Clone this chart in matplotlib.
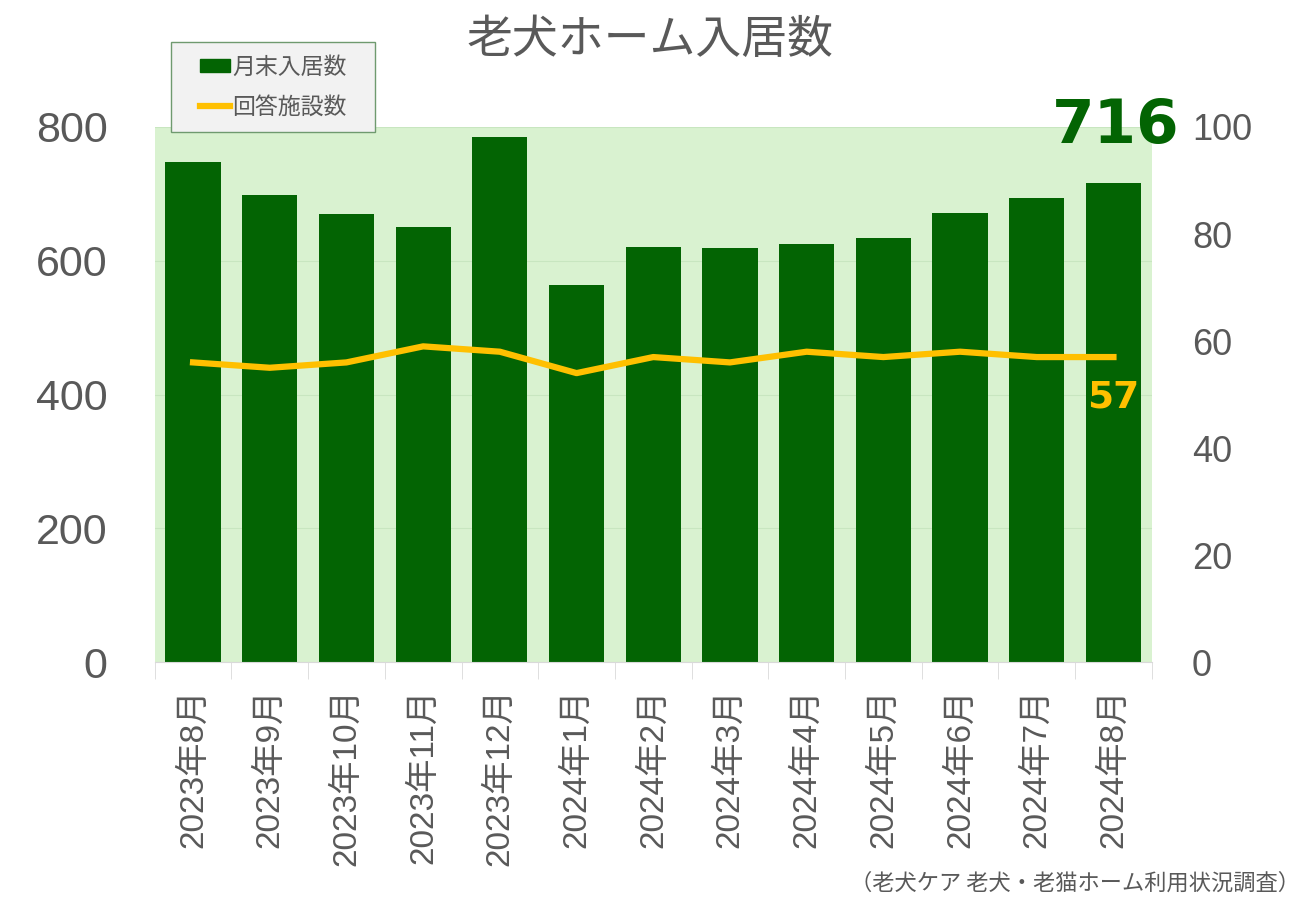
import numpy as np
import matplotlib
matplotlib.use('Agg')
import matplotlib.pyplot as plt
from matplotlib.lines import Line2D
from matplotlib.patches import Patch, Rectangle

plt.rcParams['font.family'] = ['Liberation Sans', 'Noto Sans CJK JP', 'DejaVu Sans']

months = ['2023年8月', '2023年9月', '2023年10月', '2023年11月', '2023年12月',
          '2024年1月', '2024年2月', '2024年3月', '2024年4月', '2024年5月',
          '2024年6月', '2024年7月', '2024年8月']
residents = [748, 698, 670, 650, 785, 564, 621, 619, 625, 634, 671, 694, 716]
facilities = [56, 55, 56, 59, 58, 54, 57, 56, 58, 57, 58, 57, 57]

green = '#036403'
yellow = '#FFC000'
gray = '#595959'

fig = plt.figure(figsize=(13, 9), dpi=100)
ax = fig.add_axes([0.119, 0.2644, 0.767, 0.5945])
ax.set_facecolor('#d9f2d0')
x = np.arange(len(months))
ax.bar(x, residents, width=0.72, color=green, zorder=2)
ax.set_xlim(-0.5, len(months) - 0.5)
ax.set_ylim(0, 800)
ax.set_yticks([0, 200, 400, 600, 800])
ax.yaxis.grid(True, color='#c8e6c0', linewidth=0.8, zorder=1)
ax.tick_params(axis='y', length=0, labelsize=31, labelcolor=gray, pad=34)
for lbl in ax.get_yticklabels():
    lbl.set_va('center_baseline')
for s in ['top', 'right', 'left']:
    ax.spines[s].set_visible(False)
ax.spines['bottom'].set_color('#d9d9d9')
ax.set_xticks(x)
ax.set_xticklabels(months, rotation=90, fontsize=24, color=gray)
ax.tick_params(axis='x', length=0, pad=19)
ax.set_xticks(np.arange(len(months) + 1) - 0.5, minor=True)
ax.tick_params(axis='x', which='minor', length=12, color='#d9d9d9')

ax2 = ax.twinx()
ax2.plot(x, facilities, color=yellow, linewidth=4.5, zorder=3)
ax2.set_ylim(0, 100)
ax2.set_yticks([0, 20, 40, 60, 80, 100])
ax2.tick_params(axis='y', length=0, labelsize=26, labelcolor=gray, pad=29)
for s in ax2.spines.values():
    s.set_visible(False)

ax2.text(x[-1] + 0.86, 100, str(residents[-1]), color=green, fontsize=44,
         fontweight='bold', ha='right', va='center', family=['DejaVu Sans'],
         clip_on=False)
ax2.text(x[-1] + 0.34, facilities[-1] - 7.5, str(facilities[-1]), color=yellow,
         fontsize=27, fontweight='bold', ha='right', va='center', family=['DejaVu Sans'])

fig.text(0.5, 0.956, '老犬ホーム入居数', ha='center', va='center', fontsize=33,
         color=gray, family=['Noto Sans CJK JP'])
fig.text(1.0, 0.019, '（老犬ケア 老犬・老猫ホーム利用状況調査）', ha='right', va='center',
         fontsize=16, color=gray, family=['Noto Sans CJK JP'])

# legend box
fig.add_artist(Rectangle((0.1315, 0.8533), 0.157, 0.1, transform=fig.transFigure,
                         facecolor='#f2f2f2', edgecolor='#6f9a6f', linewidth=1, zorder=4))
handles = [Patch(color=green), Line2D([0], [0], color=yellow, linewidth=4.5)]
leg = fig.legend(handles, ['月末入居数', '回答施設数'], loc='center',
                 bbox_to_anchor=(0.1315 + 0.0785, 0.8533 + 0.05), frameon=False,
                 handlelength=1.3, handleheight=0.5, handletextpad=0.1,
                 labelspacing=0.75, borderpad=0,
                 prop={'family': ['Noto Sans CJK JP'], 'size': 16.5})
leg.set_zorder(5)
for t in leg.get_texts():
    t.set_color(gray)

fig.savefig('out.png', dpi=100)
